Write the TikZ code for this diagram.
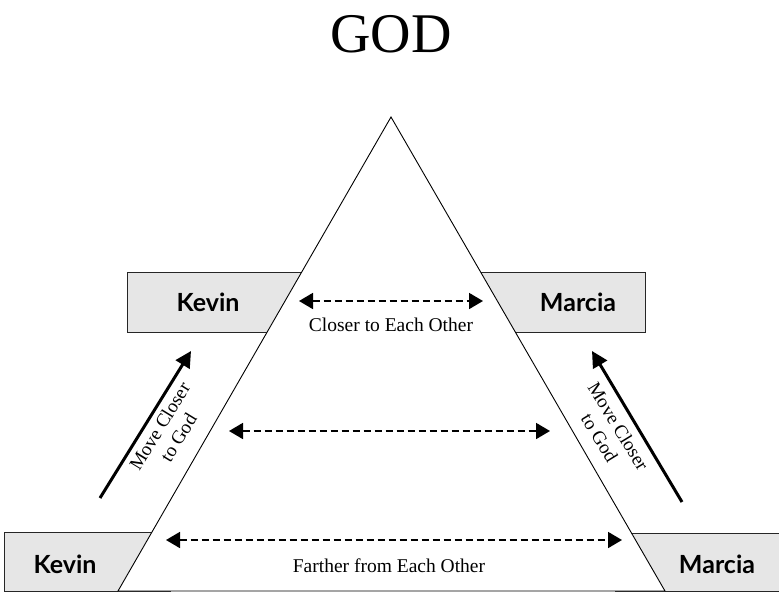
\documentclass[tikz,border=0pt]{standalone}
\usepackage{fontspec}
\setmainfont{Liberation Serif}
\newfontfamily\namefont{Lato}
\usetikzlibrary{arrows.meta}
\definecolor{boxgray}{HTML}{E6E6E6}
\begin{document}
\begin{tikzpicture}[x=1pt,y=-1pt,
  namebox/.style={fill=boxgray, draw=black!85, line width=1pt},
  nametext/.style={font=\namefont\bfseries\fontsize{25}{28}\selectfont, inner sep=0pt},
  lbl/.style={font=\fontsize{19.5}{22}\selectfont, inner sep=0pt},
  movelbl/.style={font=\fontsize{19}{22}\selectfont, align=center, inner sep=0pt},
  dasharrow/.style={line width=1.8pt, dash pattern=on 7pt off 4pt,
    {Triangle[length=14pt,width=16pt]}-{Triangle[length=14pt,width=16pt]}},
  bigarrow/.style={line width=3pt, -{Triangle[length=16pt,width=16pt]}},
  tri/.style={fill=white, draw=black, line width=0.9pt}]
\useasboundingbox (0,0) rectangle (779,592);
% boxes
\path[namebox] (127,272) rectangle (320,332);
\path[namebox] (460,272) rectangle (645,332);
\path[namebox] (4,532) rectangle (170,591);
\path[namebox] (615,533) rectangle (790,591);
% pyramid
\coordinate (apex) at (391,117);
\coordinate (bl) at (118,591);
\coordinate (br) at (665,591);
\draw[tri] (apex) -- (bl) -- (br) -- cycle;
% title
\node[font=\fontsize{56}{60}\selectfont, anchor=base, inner sep=0pt] (god) at (391,52) {GOD};
% names
\node[nametext] (kevinTop) at (208,302) {Kevin};
\node[nametext] (marciaTop) at (578,302) {Marcia};
\node[nametext] (kevinBot) at (65,564) {Kevin};
\node[nametext] (marciaBot) at (717,564) {Marcia};
% dashed arrows
\coordinate (t1) at (299,301); \coordinate (t2) at (483,301);
\coordinate (m1) at (229,431); \coordinate (m2) at (550,431);
\coordinate (b1) at (166,540); \coordinate (b2) at (622,540);
\draw[dasharrow] (t1) -- (t2);
\draw[dasharrow] (m1) -- (m2);
\draw[dasharrow] (b1) -- (b2);
\node[lbl, anchor=base] (closer) at (391,331) {Closer to Each Other};
\node[lbl, anchor=base] (farther) at (389,572) {Farther from Each Other};
% move closer arrows
\coordinate (la1) at (100,498); \coordinate (la2) at (191,351);
\coordinate (ra1) at (682,502); \coordinate (ra2) at (592,351);
\draw[bigarrow] (la1) -- (la2);
\draw[bigarrow] (ra1) -- (ra2);
\node[movelbl, rotate=58.5] (moveL) at (169,432) {Move Closer\\to God};
\node[movelbl, rotate=-58.5] (moveR) at (609,432) {Move Closer\\to God};
\end{tikzpicture}
\end{document}
